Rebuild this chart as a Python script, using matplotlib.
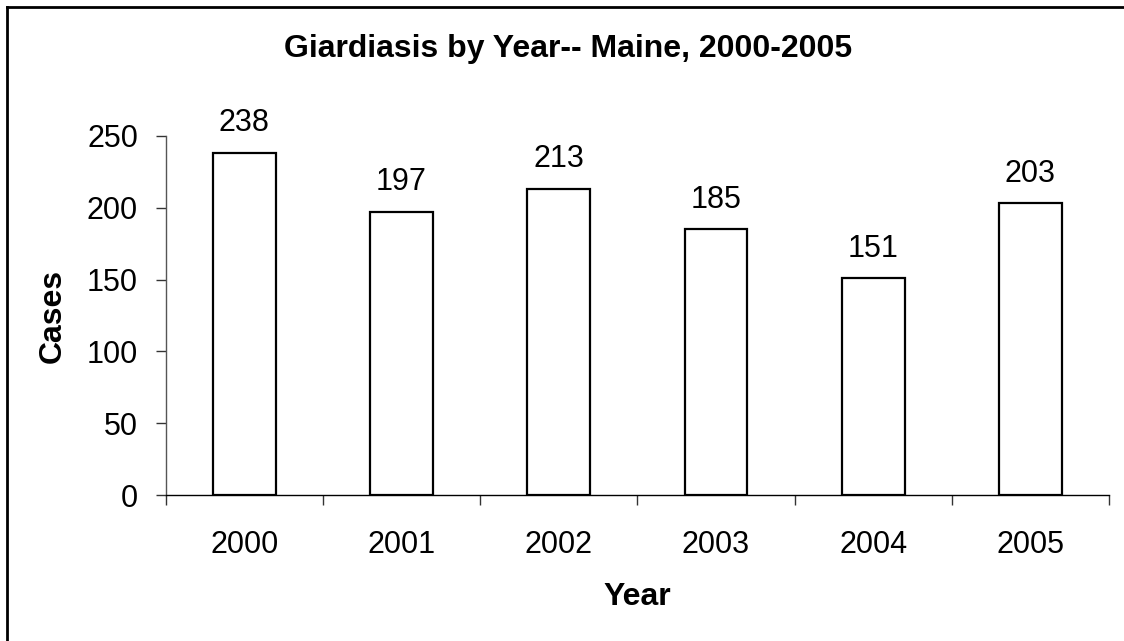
import matplotlib
matplotlib.use('Agg')
import matplotlib.pyplot as plt
from matplotlib.lines import Line2D

plt.rcParams['font.family'] = ['Liberation Sans', 'DejaVu Sans']

years = ['2000', '2001', '2002', '2003', '2004', '2005']
cases = [238, 197, 213, 185, 151, 203]
y_ticks = [0, 50, 100, 150, 200, 250]

fig = plt.figure(figsize=(11.24, 6.41), dpi=100)
ax = fig.add_axes([0.1474, 0.2273, 0.8393, 0.5610])

x = list(range(len(years)))
ax.bar(x, cases, width=0.4, color='white', edgecolor='black', linewidth=1.6)

for xi, v in zip(x, cases):
    ax.annotate(str(v), (xi, v), xytext=(0, 15.5), textcoords='offset points',
                ha='center', va='baseline', fontsize=22)

ax.set_xlim(-0.5, len(years) - 0.5)
ax.set_ylim(0, 250)
ax.set_yticks(y_ticks)
ax.set_yticklabels([str(t) for t in y_ticks], fontsize=22)
ax.set_xticks(x)
ax.set_xticklabels(years, fontsize=22)
ax.set_xticks([i - 0.5 for i in range(len(years) + 1)], minor=True)

ax.tick_params(axis='x', which='major', length=0, pad=25)
ax.tick_params(axis='x', which='minor', length=7, width=1, color='#333333', direction='out')
ax.tick_params(axis='y', length=7, width=1, color='#333333', pad=13)

for s in ['top', 'right']:
    ax.spines[s].set_visible(False)
ax.spines['left'].set_color('#555555')
ax.spines['left'].set_linewidth(1)
ax.spines['bottom'].set_color('black')
ax.spines['bottom'].set_linewidth(1)

fig.text(0.505, 0.924, 'Giardiasis by Year-- Maine, 2000-2005', ha='center', va='center',
         fontsize=23, fontweight='bold')
fig.text(0.567, 0.068, 'Year', ha='center', va='center', fontsize=23, fontweight='bold')
fig.text(0.047, 0.507, 'Cases', ha='center', va='center', rotation=90, fontsize=23, fontweight='bold')

# border (only top and left edge are visible in the original)
fig.add_artist(Line2D([0.0062, 0.0062], [0, 0.989], transform=fig.transFigure, color='black', lw=2))
fig.add_artist(Line2D([0.0062, 1.0], [0.989, 0.989], transform=fig.transFigure, color='black', lw=2))

fig.savefig('out.png', dpi=100)
